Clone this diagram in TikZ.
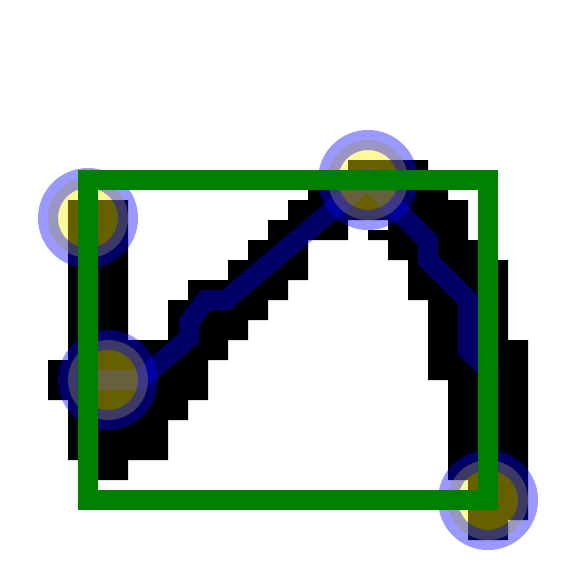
\documentclass[tikz,border=0pt]{standalone}
\definecolor{grn}{RGB}{0,128,0}
\tikzset{
  blk/.style={fill=black},
  trail/.style={draw=blue, draw opacity=0.4, line width=20pt, line join=miter},
  vertex/.style={draw=blue, draw opacity=0.4, fill=yellow, fill opacity=0.4, line width=20pt},
  bbox/.style={draw=grn, line width=20pt}
}
\begin{document}
\begin{tikzpicture}[x=1pt,y=-1pt]
\useasboundingbox (0,0) rectangle (582,568);
\coordinate (p1) at (88,218);
\coordinate (p2) at (108,380);
\coordinate (p3) at (368,180);
\coordinate (p4) at (488,500);
% pixelated black band
\fill[blk] (68,200) rectangle (128,340)
  (348,160) rectangle (428,180)
  (308,180) rectangle (448,200)
  (288,200) rectangle (468,220)
  (268,220) rectangle (348,240)
  (388,220) rectangle (468,230)
  (368,230) rectangle (468,240)
  (248,240) rectangle (308,260)
  (388,240) rectangle (478,260)
  (228,260) rectangle (308,280)
  (408,260) rectangle (508,280)
  (188,280) rectangle (288,300)
  (408,280) rectangle (508,300)
  (168,300) rectangle (268,320)
  (428,300) rectangle (508,320)
  (168,320) rectangle (248,340)
  (428,320) rectangle (508,340)
  (68,340) rectangle (228,360)
  (428,340) rectangle (528,360)
  (48,360) rectangle (208,380)
  (428,360) rectangle (528,380)
  (48,380) rectangle (208,400)
  (448,380) rectangle (528,400)
  (68,400) rectangle (188,420)
  (448,400) rectangle (528,420)
  (68,420) rectangle (168,460)
  (448,420) rectangle (528,460)
  (88,460) rectangle (128,480)
  (448,460) rectangle (528,480)
  (468,480) rectangle (528,520)
  (468,520) rectangle (508,540);
% translucent blue trail
\draw[trail] (p1) -- (88,380) -- (140,380) -- (189,338) -- (189,322) -- (206,300) -- (226,300)
  -- (p3) -- (428,241) -- (428,260) -- (468,300) -- (468,350) -- (488,370) -- (p4);
% vertices
\foreach \p in {p1,p2,p3,p4} \path[vertex] (\p) circle[radius=40pt];
% bounding rectangle
\draw[bbox] (p1 |- p3) rectangle (p4);
\end{tikzpicture}
\end{document}
